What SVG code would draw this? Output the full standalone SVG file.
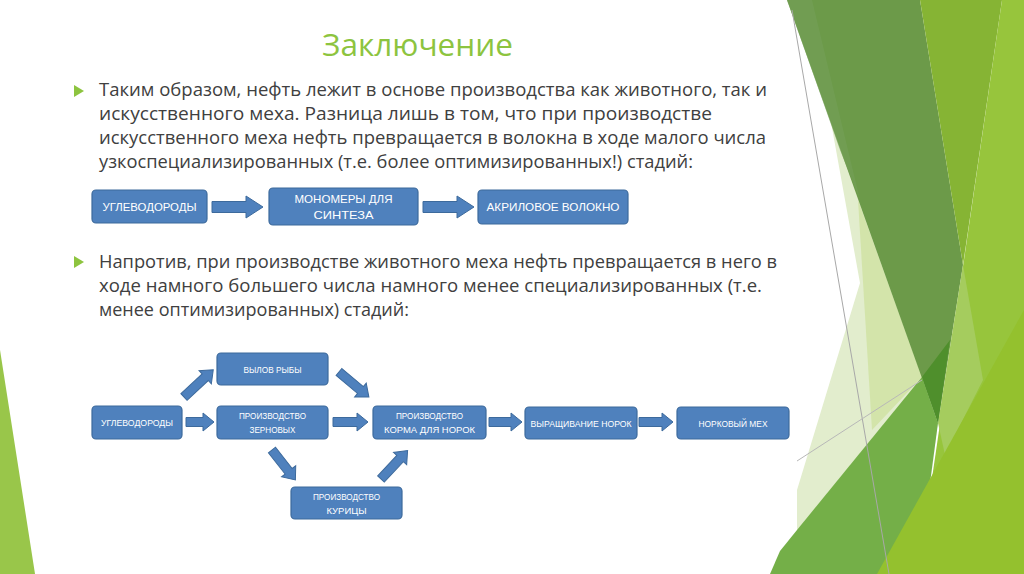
<svg xmlns="http://www.w3.org/2000/svg" width="1024" height="574" viewBox="0 0 1024 574">
<style>
.box{fill:#4F81BD;stroke:#3D6A9C;stroke-width:1.2}
.arr{fill:#4F81BD;stroke:#3D6A9C;stroke-width:1}
.lbl{font-family:"Liberation Sans",Arial,sans-serif;fill:#ffffff;text-anchor:middle}
.l1{font-size:11px}
.l2{font-size:9.5px}
.body{font-family:"Open Sans","Liberation Sans",sans-serif;font-size:17.5px;fill:#404040}
.title{font-family:"Open Sans","Liberation Sans",sans-serif;font-size:31px;fill:#8DC43F}
.bul{fill:#8DC43F}
</style>
<rect width="1024" height="574" fill="#ffffff"/>
<g id="background">
<polygon points="0,350 35,574 0,574" fill="#99C64A"/>
<polygon points="818,50 860,283 797,490 797,533 930,370 900,150" fill="#E2EDCD"/>
<polygon points="858,200 872,430 922,377" fill="#D3E4AA"/>
<polygon points="787,0 920,0 963,265 938,423" fill="#6C9A49"/>
<polygon points="787,0 812,0 860,200 840,150" fill="#74A058" opacity="0.6"/>
<polygon points="920,0 1002,0 963,265" fill="#86B434"/>
<polygon points="1002,0 1024,0 1024,574 918,574" fill="#97C53C"/>
<polygon points="963,265 983,380 945,455 938,423" fill="#A5CC5E"/>
<polygon points="770,574 780,551 797,530 922,377 938,423 918,574" fill="#74AF48"/>
<polygon points="922,377 950,340 938,423" fill="#4F8F2C"/>
<polygon points="877,574 1024,310 1024,574" fill="#94C12E"/>
<line x1="792" y1="10" x2="889" y2="574" stroke="#A8A8A8" stroke-width="1"/>
<line x1="797" y1="461" x2="922" y2="380" stroke="#B8B8B8" stroke-width="1"/>
</g>
<g id="title"><text class="title" x="322" y="56" textLength="191" lengthAdjust="spacingAndGlyphs">Заключение</text></g>
<g id="text1">
<polygon class="bul" points="74,85 84,91 74,97"/>
<text class="body" x="99" y="96" textLength="668" lengthAdjust="spacingAndGlyphs">Таким образом, нефть лежит в основе производства как животного, так и</text>
<text class="body" x="99" y="120" textLength="613" lengthAdjust="spacingAndGlyphs">искусственного меха. Разница лишь в том, что при производстве</text>
<text class="body" x="99" y="144" textLength="667" lengthAdjust="spacingAndGlyphs">искусственного меха нефть превращается в волокна в ходе малого числа</text>
<text class="body" x="99" y="168" textLength="594" lengthAdjust="spacingAndGlyphs">узкоспециализированных (т.е. более оптимизированных!) стадий:</text>
</g>
<g id="text2">
<polygon class="bul" points="74,256 84,262 74,268"/>
<text class="body" x="99" y="268" textLength="678" lengthAdjust="spacingAndGlyphs">Напротив, при производстве животного меха нефть превращается в него в</text>
<text class="body" x="99" y="292" textLength="663" lengthAdjust="spacingAndGlyphs">ходе намного большего числа намного менее специализированных (т.е.</text>
<text class="body" x="99" y="316" textLength="310" lengthAdjust="spacingAndGlyphs">менее оптимизированных) стадий:</text>
</g>
<g id="connectors">
<path class="arr" transform="translate(212,207)" d="M0,-5.5 H34 V-11 L51,0 L34,11 V5.5 H0 Z"/>
<path class="arr" transform="translate(423,207)" d="M0,-5.5 H34 V-11 L51,0 L34,11 V5.5 H0 Z"/>
<path class="arr" transform="translate(186,422)" d="M0,-4.5 H17 V-9 L28,0 L17,9 V4.5 H0 Z"/>
<path class="arr" transform="translate(333,422)" d="M0,-4.5 H24 V-9 L35,0 L24,9 V4.5 H0 Z"/>
<path class="arr" transform="translate(489,422)" d="M0,-4.5 H22 V-9 L33,0 L22,9 V4.5 H0 Z"/>
<path class="arr" transform="translate(639,422)" d="M0,-4.5 H23 V-9 L34,0 L23,9 V4.5 H0 Z"/>
<path class="arr" transform="translate(184,397) rotate(-43)" d="M0,-4.5 H29 V-9 L40,0 L29,9 V4.5 H0 Z"/>
<path class="arr" transform="translate(339,372) rotate(40)" d="M0,-4.5 H28 V-9 L39,0 L28,9 V4.5 H0 Z"/>
<path class="arr" transform="translate(272,450) rotate(52)" d="M0,-4.5 H27 V-9 L38,0 L27,9 V4.5 H0 Z"/>
<path class="arr" transform="translate(381,479) rotate(-47)" d="M0,-4.5 H28 V-9 L39,0 L28,9 V4.5 H0 Z"/>
</g>
<g id="n_ugl1"><rect class="box" x="92" y="190" width="115" height="33" rx="4"/><text class="lbl l1" x="149.5" y="211" textLength="94" lengthAdjust="spacingAndGlyphs">УГЛЕВОДОРОДЫ</text></g>
<g id="n_mono"><rect class="box" x="269" y="188" width="149" height="37" rx="4"/><text class="lbl l1" x="343.5" y="203" textLength="98" lengthAdjust="spacingAndGlyphs">МОНОМЕРЫ ДЛЯ</text><text class="lbl l1" x="343.5" y="219" textLength="60" lengthAdjust="spacingAndGlyphs">СИНТЕЗА</text></g>
<g id="n_acryl"><rect class="box" x="478" y="190" width="150" height="34" rx="4"/><text class="lbl l1" x="553" y="211" textLength="133" lengthAdjust="spacingAndGlyphs">АКРИЛОВОЕ ВОЛОКНО</text></g>
<g id="n_ugl2"><rect class="box" x="92" y="406" width="90" height="33" rx="4"/><text class="lbl l2" x="137" y="426" textLength="72" lengthAdjust="spacingAndGlyphs">УГЛЕВОДОРОДЫ</text></g>
<g id="n_fish"><rect class="box" x="217" y="353" width="111" height="32" rx="4"/><text class="lbl l2" x="272.5" y="373" textLength="58" lengthAdjust="spacingAndGlyphs">ВЫЛОВ РЫБЫ</text></g>
<g id="n_grain"><rect class="box" x="217" y="406" width="111" height="33" rx="4"/><text class="lbl l2" x="272.5" y="419" textLength="67" lengthAdjust="spacingAndGlyphs">ПРОИЗВОДСТВО</text><text class="lbl l2" x="272.5" y="433" textLength="46" lengthAdjust="spacingAndGlyphs">ЗЕРНОВЫХ</text></g>
<g id="n_feed"><rect class="box" x="373" y="406" width="113" height="33" rx="4"/><text class="lbl l2" x="429.5" y="419" textLength="67" lengthAdjust="spacingAndGlyphs">ПРОИЗВОДСТВО</text><text class="lbl l2" x="429.5" y="433" textLength="91" lengthAdjust="spacingAndGlyphs">КОРМА ДЛЯ НОРОК</text></g>
<g id="n_grow"><rect class="box" x="525" y="407" width="112" height="32" rx="4"/><text class="lbl l2" x="581" y="427" textLength="101" lengthAdjust="spacingAndGlyphs">ВЫРАЩИВАНИЕ НОРОК</text></g>
<g id="n_fur"><rect class="box" x="677" y="407" width="112" height="32" rx="4"/><text class="lbl l2" x="733" y="427" textLength="69" lengthAdjust="spacingAndGlyphs">НОРКОВЫЙ МЕХ</text></g>
<g id="n_chick"><rect class="box" x="291" y="487" width="111" height="32" rx="4"/><text class="lbl l2" x="346.5" y="500" textLength="67" lengthAdjust="spacingAndGlyphs">ПРОИЗВОДСТВО</text><text class="lbl l2" x="346.5" y="514" textLength="40" lengthAdjust="spacingAndGlyphs">КУРИЦЫ</text></g>
</svg>
